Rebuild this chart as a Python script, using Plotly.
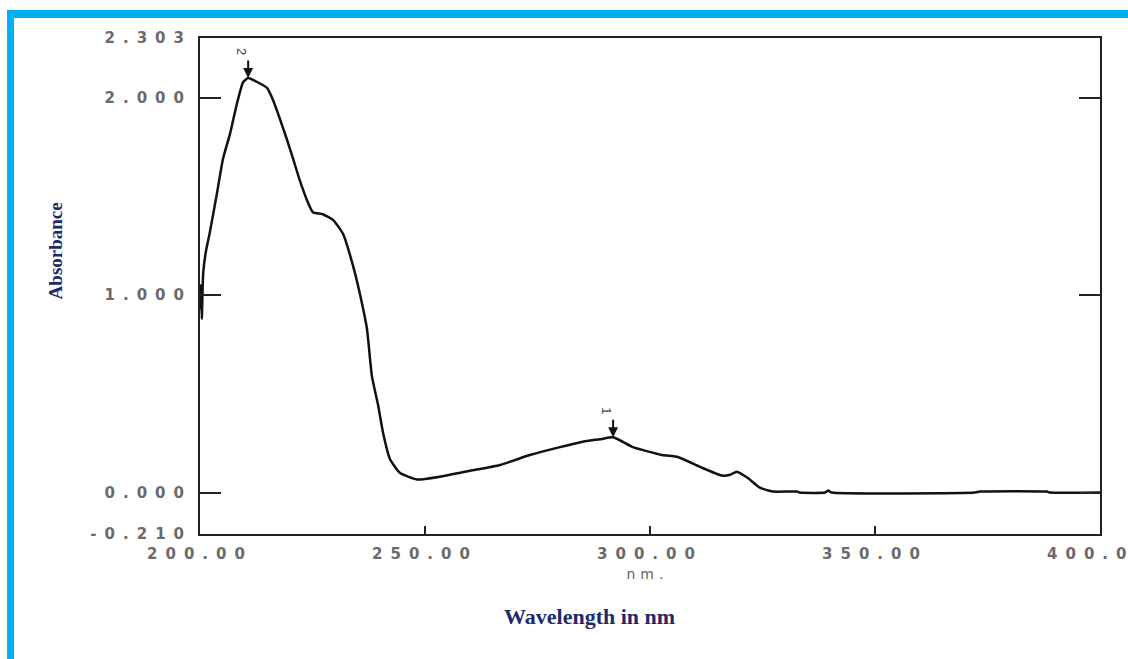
import plotly.graph_objects as go

# ---- data ----
wavelength = [200.0, 200.2, 200.4, 200.7, 201.3, 202.2, 203.8, 205.1, 206.7, 208.2,
              209.6, 210.7, 212.7, 214.9, 216.2, 217.8, 219.3, 220.7, 222.2, 223.8,
              225.1, 227.3, 229.6, 231.8, 234.0, 235.6, 237.1, 238.2, 239.6, 240.7,
              242.2, 244.4, 248.2, 253.3, 260.0, 266.7, 273.3, 280.0, 285.6, 288.9,
              291.8, 296.2, 302.7, 306.2, 311.1, 316.0, 317.8, 319.3, 321.6, 324.4,
              327.3, 332.7, 333.3, 338.9, 339.6, 340.4, 372.2, 373.3, 388.2, 388.9,
              400.0]
absorbance = [0.93, 1.05, 0.88, 1.11, 1.22, 1.32, 1.52, 1.69, 1.82, 1.97,
              2.08, 2.10, 2.08, 2.05, 1.99, 1.89, 1.79, 1.69, 1.58, 1.48,
              1.42, 1.41, 1.38, 1.31, 1.15, 1.00, 0.83, 0.59, 0.44, 0.30,
              0.17, 0.10, 0.066, 0.08, 0.11, 0.14, 0.19, 0.23, 0.26, 0.27,
              0.28, 0.23, 0.19, 0.18, 0.13, 0.086, 0.09, 0.106, 0.076, 0.025,
              0.005, 0.005, 0.0, 0.0, 0.01, 0.0, 0.0, 0.005, 0.005, 0.0,
              0.0]

x_tickvals = [200, 250, 300, 350, 400]
x_ticktext = ["200.00", "250.00", "300.00", "350.00", "400.00"]
y_tickvals = [-0.21, 0.0, 1.0, 2.0, 2.303]
y_ticktext = ["-0.210", "0.000", "1.000", "2.000", "2.303"]
peak_labels = ["2", "1"]

# peaks derived from data
i2 = max(range(len(absorbance)), key=lambda i: absorbance[i])
tail = [i for i in range(len(wavelength)) if wavelength[i] > 260]
i1 = max(tail, key=lambda i: absorbance[i])
peaks = [i2, i1]

fig = go.Figure()
fig.add_trace(go.Scatter(x=wavelength, y=absorbance, mode="lines",
                         line=dict(color="#111111", width=2.5, shape="spline", smoothing=0.5),
                         showlegend=False, hoverinfo="skip"))

tick_font = dict(family="DejaVu Sans, sans-serif", size=15, color="#6a6a6a", weight="bold")
title_color = "#1f2a6b"

fig.update_xaxes(range=[200, 400], tickvals=x_tickvals, ticktext=x_ticktext,
                 ticks="inside", ticklen=8, tickwidth=2, tickcolor="#222",
                 showline=True, linecolor="#222", linewidth=2, mirror=True,
                 showgrid=False, zeroline=False, tickfont=tick_font,
                 ticklabelstandoff=5, ticklabeloverflow="allow", automargin=False)
fig.update_yaxes(range=[-0.21, 2.303], tickvals=y_tickvals, ticktext=y_ticktext,
                 ticks="inside", ticklen=21, tickwidth=2, tickcolor="#222",
                 showline=True, linecolor="#222", linewidth=2, mirror="ticks",
                 showgrid=False, zeroline=False, tickfont=tick_font,
                 ticklabelstandoff=3, ticklabeloverflow="allow", automargin=False)

annotations = []
for lab, idx in zip(peak_labels, peaks):
    annotations.append(dict(x=wavelength[idx], y=absorbance[idx], xref="x", yref="y",
                            text="", showarrow=True, ax=0, ay=-19,
                            arrowhead=2, arrowsize=1, arrowwidth=2, arrowcolor="#111"))
    annotations.append(dict(x=wavelength[idx], y=absorbance[idx], xref="x", yref="y",
                            text=lab, showarrow=False, textangle=90,
                            xshift=-6, yshift=27,
                            font=dict(family="Liberation Sans, Arial", size=13, color="#444")))

annotations.append(dict(text="<b>Absorbance</b>", x=-0.161, y=0.57, xref="paper", yref="paper",
                        xanchor="center", yanchor="middle",
                        showarrow=False, textangle=-90,
                        font=dict(family="Liberation Serif, Times New Roman, serif", size=19,
                                  color=title_color)))
annotations.append(dict(text="<b>Wavelength in nm</b>", x=0.433, y=-0.167, xref="paper", yref="paper",
                        xanchor="center", yanchor="middle",
                        showarrow=False,
                        font=dict(family="Liberation Serif, Times New Roman, serif", size=22,
                                  color=title_color)))
annotations.append(dict(text="nm.", x=0.497, y=-0.08, xref="paper", yref="paper",
                        xanchor="center", yanchor="middle",
                        showarrow=False,
                        font=dict(family="DejaVu Sans, sans-serif", size=14, color="#666666")))

blue = "#00b0f0"
shapes = [
    dict(type="rect", xref="paper", yref="paper", x0=-0.2144, x1=1.05, y0=1.0403, y1=1.0565,
         fillcolor=blue, line=dict(width=0), layer="above"),
    dict(type="rect", xref="paper", yref="paper", x0=-0.2144, x1=-0.2067, y0=-0.27, y1=1.0565,
         fillcolor=blue, line=dict(width=0), layer="above"),
]

fig.update_layout(width=1128, height=659,
                  margin=dict(l=200, r=28, t=38, b=125, autoexpand=False),
                  paper_bgcolor="white", plot_bgcolor="white",
                  annotations=annotations, shapes=shapes, showlegend=False)

post = """
document.body.style.margin = '0';
document.body.style.overflow = 'hidden';
var gd = document.getElementById('{plot_id}');
gd.querySelectorAll('.xtick text, .ytick text').forEach(function(t){ t.style.letterSpacing = '8px'; });
gd.querySelectorAll('.annotation-text').forEach(function(t){ if (t.textContent === 'nm.') { t.style.letterSpacing = '5px'; } });
"""
fig.write_html("out.html", post_script=post, config={"displayModeBar": False})
